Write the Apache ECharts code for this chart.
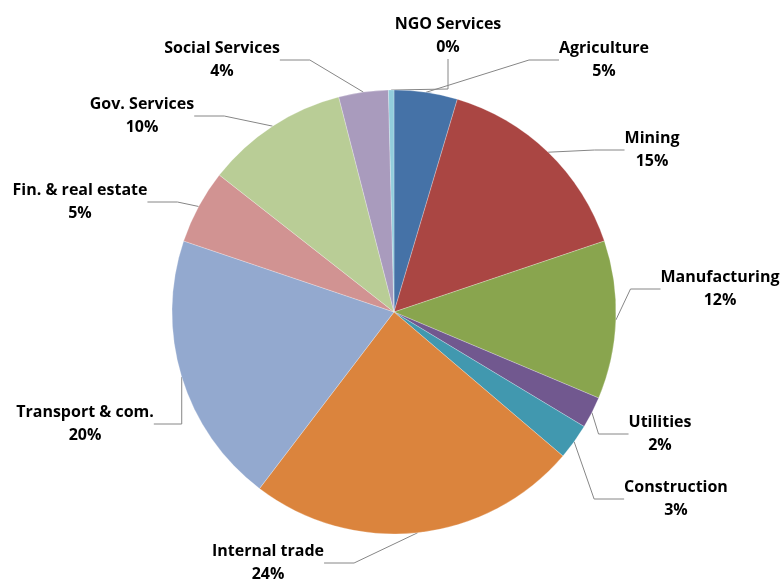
<!DOCTYPE html>
<html>
<head>
<meta charset="utf-8">
<script src="https://cdn.jsdelivr.net/npm/echarts@6/dist/echarts.min.js"></script>
<style>
  html, body { margin: 0; padding: 0; background: #fff; }
  #chart { width: 782px; height: 581px; }
</style>
</head>
<body>
<div id="chart"></div>
<script>
var sectors = ['Agriculture', 'Mining', 'Manufacturing', 'Utilities', 'Construction',
  'Internal trade', 'Transport & com.', 'Fin. & real estate', 'Gov. Services',
  'Social Services', 'NGO Services'];
var shares = [4.6, 15.2, 11.5, 2.3, 2.6, 24.1, 19.8, 5.4, 10.4, 3.6, 0.4];
var colors = ['#4572A7', '#AA4643', '#89A54E', '#71588F', '#4198AF', '#DB843D',
  '#93A9CF', '#D19392', '#B9CD96', '#A99BBD', '#92CDDC'];

// where each label sits (centre of the two text lines)
var labelPos = [[604, 60], [652, 150], [720, 289], [660, 434], [676, 499],
  [268, 563], [85, 424], [80, 202], [142, 116], [222, 60], [448, 36]];

var myChart = echarts.init(document.getElementById('chart'));

var pieData = [];
for (var i = 0; i < sectors.length; i++) {
  pieData.push({ name: sectors[i], value: shares[i], itemStyle: { color: colors[i] } });
}

myChart.setOption({
  animation: false,
  series: [{
    type: 'pie',
    center: [394, 312],
    radius: 222,
    startAngle: 90,
    clockwise: true,
    data: pieData,
    itemStyle: { borderColor: 'rgba(255,255,255,0.5)', borderWidth: 0.5 },
    label: {
      show: true,
      position: 'outside',
      overflow: 'none',
      fontFamily: 'Open Sans',
      fontWeight: 'bold',
      fontSize: 16,
      lineHeight: 23,
      color: '#000',
      align: 'center',
      formatter: function (p) {
        return p.name + '\n' + Math.round(p.percent) + '%';
      }
    },
    labelLine: {
      show: true,
      lineStyle: { color: '#868686', width: 1 }
    },
    labelLayout: function (p) {
      var pos = labelPos[p.dataIndex];
      return { x: pos[0], y: pos[1], align: 'center', verticalAlign: 'middle' };
    }
  }]
});
</script>
</body>
</html>
